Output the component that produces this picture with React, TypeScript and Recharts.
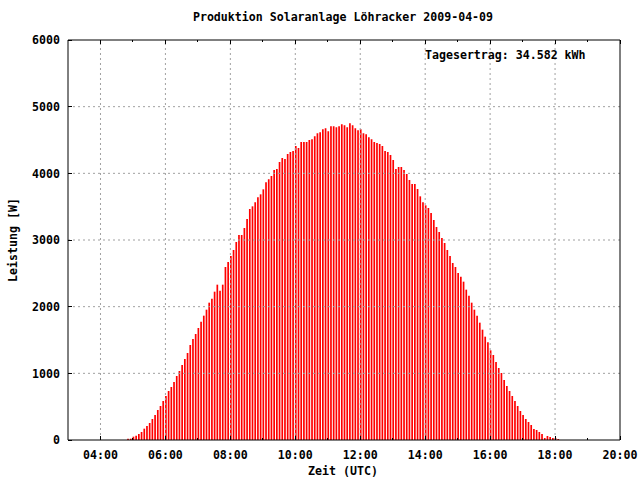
import React from 'react';
import { ComposedChart, Bar, XAxis, YAxis, ReferenceLine } from 'recharts';

// 5-minute samples, first one at 04:50 UTC
const startMinute = 4 * 60 + 50;
const stepMinutes = 5;

const leistung = [
  20, 20, 50, 65, 90, 120, 170, 210, 255, 315,
  375, 450, 510, 585, 660, 735, 795, 870, 960, 1035,
  1125, 1215, 1305, 1425, 1515, 1590, 1680, 1775, 1865, 1955,
  2060, 2120, 2225, 2330, 2240, 2330, 2595, 2670, 2760, 2850,
  2970, 3075, 3075, 3180, 3315, 3465, 3505, 3565, 3640, 3685,
  3760, 3865, 3910, 3960, 4050, 4065, 4170, 4230, 4215, 4290,
  4320, 4335, 4410, 4380, 4470, 4470, 4470, 4500, 4510, 4555,
  4600, 4615, 4660, 4675, 4630, 4705, 4705, 4690, 4705, 4735,
  4720, 4690, 4750, 4720, 4675, 4645, 4660, 4600, 4585, 4540,
  4510, 4470, 4455, 4440, 4410, 4335, 4320, 4275, 4200, 4065,
  4095, 4095, 4050, 3990, 3900, 3840, 3840, 3765, 3655, 3565,
  3520, 3480, 3405, 3300, 3195, 3120, 3030, 2955, 2850, 2760,
  2655, 2595, 2505, 2450, 2375, 2255, 2165, 2060, 1955, 1865,
  1760, 1655, 1550, 1465, 1345, 1275, 1170, 1080, 1005, 900,
  810, 735, 660, 585, 510, 435, 375, 315, 270, 225,
  165, 150, 120, 90, 30, 60, 45, 30, 30, 15,
];

const hourTicks = [4, 5, 6, 7, 8, 9, 10, 11, 12, 13, 14, 15, 16, 17, 18, 19, 20];
const gridHours = [4, 6, 8, 10, 12, 14, 16, 18];
const powerTicks = [0, 1000, 2000, 3000, 4000, 5000, 6000];
const gridPower = [1000, 2000, 3000, 4000, 5000];

const title = 'Produktion Solaranlage Löhracker 2009-04-09';
const tagesertrag = 'Tagesertrag: 34.582 kWh';

const data = leistung.map((w, i) => ({ t: (startMinute + i * stepMinutes) / 60, w }));

const font: React.CSSProperties = {
  fontFamily: "'DejaVu Sans Mono', monospace",
  fontWeight: 'bold',
  fontSize: 11.6,
  fill: '#000',
  color: '#000',
  lineHeight: '1',
  whiteSpace: 'nowrap',
};

const X_LABEL_GAP = 15;
const Y_LABEL_GAP = 8;

const fmtHour = (h: number) => `${String(h).padStart(2, '0')}:00`;

function BottomTick(props: any) {
  const { x, y, payload } = props;
  const h = payload.value;
  const major = h % 2 === 0;
  const axisY = y - X_LABEL_GAP;
  return (
    <g>
      <line x1={x} x2={x} y1={axisY} y2={axisY - (major ? 4 : 2)} stroke="#000" shapeRendering="crispEdges" />
      {major && (
        <text x={x} y={y} dy="0.36em" textAnchor="middle" style={font}>
          {fmtHour(h)}
        </text>
      )}
    </g>
  );
}

function TopTick(props: any) {
  const { x, y, payload } = props;
  const major = payload.value % 2 === 0;
  return <line x1={x} x2={x} y1={y} y2={y + (major ? 4 : 2)} stroke="#000" shapeRendering="crispEdges" />;
}

function LeftTick(props: any) {
  const { x, y, payload } = props;
  const axisX = x + Y_LABEL_GAP;
  return (
    <g>
      <line x1={axisX} x2={axisX + 4} y1={y} y2={y} stroke="#000" shapeRendering="crispEdges" />
      <text x={x} y={y} dy="0.36em" textAnchor="end" style={font}>
        {payload.value}
      </text>
    </g>
  );
}

function RightTick(props: any) {
  const { x, y } = props;
  return <line x1={x} x2={x - 4} y1={y} y2={y} stroke="#000" shapeRendering="crispEdges" />;
}

export default function App() {
  return (
    <div style={{ position: 'absolute', left: 0, top: 0, width: 640, height: 480, background: '#fff' }}>
      <ComposedChart width={640} height={480} data={data} margin={{ top: 39, right: 19, bottom: 0, left: 0 }}>
        <XAxis
          dataKey="t"
          type="number"
          domain={[3, 20]}
          ticks={hourTicks}
          interval={0}
          height={40}
          tickSize={0}
          tickMargin={X_LABEL_GAP}
          axisLine={{ stroke: '#000' }}
          tickLine={false}
          tick={(p: any) => <BottomTick {...p} />}
        />
        <XAxis
          xAxisId="top"
          orientation="top"
          dataKey="t"
          type="number"
          domain={[3, 20]}
          ticks={hourTicks}
          interval={0}
          height={1}
          tickSize={0}
          tickMargin={0}
          axisLine={{ stroke: '#000' }}
          tickLine={false}
          tick={(p: any) => <TopTick {...p} />}
        />
        <YAxis
          type="number"
          domain={[0, 6000]}
          ticks={powerTicks}
          interval={0}
          width={68}
          tickSize={0}
          tickMargin={Y_LABEL_GAP}
          axisLine={{ stroke: '#000' }}
          tickLine={false}
          tick={(p: any) => <LeftTick {...p} />}
        />
        <YAxis
          yAxisId="right"
          orientation="right"
          type="number"
          domain={[0, 6000]}
          ticks={powerTicks}
          interval={0}
          width={1}
          tickSize={0}
          tickMargin={0}
          axisLine={{ stroke: '#000' }}
          tickLine={false}
          tick={(p: any) => <RightTick {...p} />}
        />
        {gridHours.map((h) => (
          <ReferenceLine key={'gx' + h} x={h} stroke="#a0a0a0" strokeDasharray="2 3" />
        ))}
        {gridPower.map((v) => (
          <ReferenceLine key={'gy' + v} y={v} stroke="#a0a0a0" strokeDasharray="2 3" />
        ))}
        <Bar dataKey="w" fill="#ff0000" barSize={1.7} isAnimationActive={false} />
      </ComposedChart>
      <div style={{ ...font, position: 'absolute', left: 343, top: 18, transform: 'translate(-50%, -50%)' }}>{title}</div>
      <div style={{ ...font, position: 'absolute', left: 425, top: 56, transform: 'translateY(-50%)' }}>{tagesertrag}</div>
      <div style={{ ...font, position: 'absolute', left: 343, top: 472, transform: 'translate(-50%, -50%)' }}>Zeit (UTC)</div>
      <div style={{ ...font, position: 'absolute', left: 14, top: 240, transform: 'translate(-50%, -50%) rotate(-90deg)' }}>
        Leistung [W]
      </div>
    </div>
  );
}
